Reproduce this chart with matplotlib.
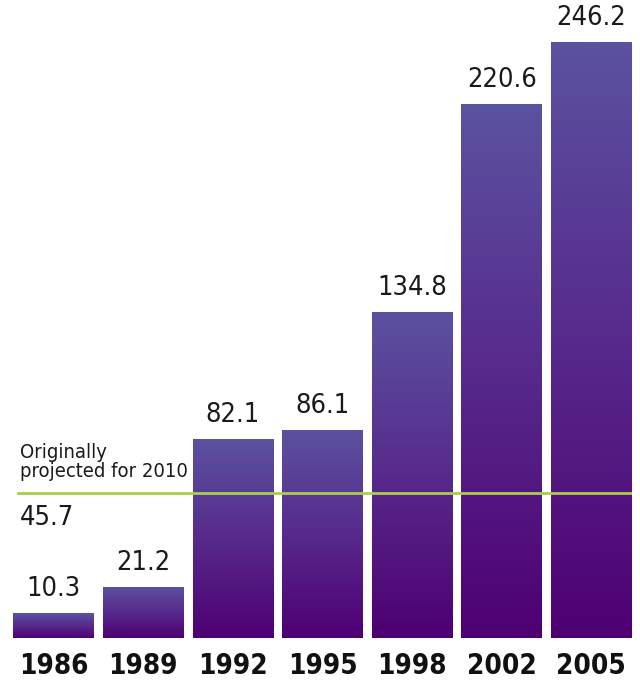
import numpy as np
import matplotlib
matplotlib.use("Agg")
import matplotlib.pyplot as plt
from matplotlib.colors import LinearSegmentedColormap

years = ["1986", "1989", "1992", "1995", "1998", "2002", "2005"]
values = [10.3, 21.2, 82.1, 86.1, 134.8, 220.6, 246.2]
projected_label = "45.7"
projected_level = 60.0   # where the green line sits in the picture

narrow = ["DejaVu Sans", "Liberation Sans"]

fig = plt.figure(figsize=(6.4, 6.81), dpi=100, facecolor="white")
ax = fig.add_axes([13 / 640, 43 / 681, 619 / 640, 638 / 681])

cmap = LinearSegmentedColormap.from_list("bar", ["#4e0072", "#572a8c", "#5b52a0"])
grad = np.linspace(0, 1, 256).reshape(-1, 1)

x = np.arange(len(years))
width = 0.9
bars = ax.bar(x, values, width=width, color="none", edgecolor="none")

for b, v in zip(bars, values):
    x0 = b.get_x()
    im = ax.imshow(grad, cmap=cmap, origin="lower", aspect="auto",
                   extent=[x0, x0 + b.get_width(), 0, v], zorder=1)
    im.set_clip_path(b)
    ax.text(b.get_x() + b.get_width() / 2, v + 4.5, f"{v}", ha="center", va="bottom",
            fontsize=19.5, family=narrow, stretch="condensed", color="#1a1a1a")

ax.axhline(projected_level, xmin=0.008, xmax=1, color="#a8cf45", lw=2, zorder=3)
ax.text(-0.38, projected_level + 5, "Originally\nprojected for 2010", ha="left", va="bottom",
        fontsize=14.5, family=narrow, stretch="condensed", color="#1a1a1a", linespacing=0.95)
ax.text(-0.38, projected_level - 5, projected_label, ha="left", va="top",
        fontsize=19.5, family=narrow, stretch="condensed", color="#1a1a1a")

ax.set_xlim(-0.455, len(years) - 1 + 0.455)
ax.set_ylim(0, 263.6)
ax.set_xticks(x)
ax.set_xticklabels(years, fontsize=20, fontweight="bold", family=narrow,
                   stretch="condensed", color="#111111")
ax.tick_params(axis="x", length=0, pad=10)
ax.set_yticks([])
for s in ax.spines.values():
    s.set_visible(False)

fig.savefig("out.png", dpi=100, facecolor="white")
